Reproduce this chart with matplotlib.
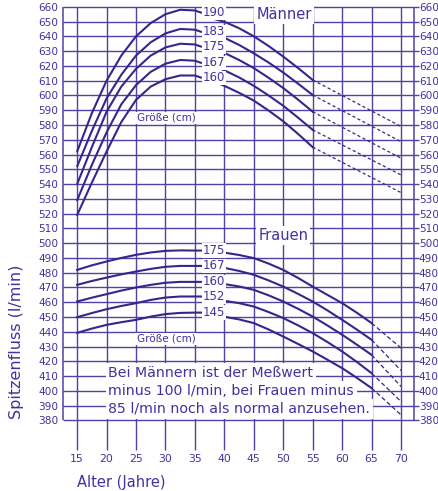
import matplotlib
matplotlib.use("Agg")
import matplotlib.pyplot as plt

# ---------------- data ----------------
men_heights = ["190", "183", "175", "167", "160"]
men_rise_years = [15, 17.5, 20, 22.5, 25, 27.5, 30, 32.5, 35]
men_rise = [
    [562, 588, 610, 627, 640, 649, 655, 658, 657.5],
    [552, 576, 598, 614, 627, 636, 642, 645, 644.5],
    [540, 565, 589, 606, 618, 627, 632.5, 635, 634.5],
    [529, 553, 575, 594, 607, 616, 621.5, 624, 623.5],
    [519, 541, 562, 582, 597, 606, 611, 613.5, 613.5],
]
men_fall_years = [38.5, 40, 42.5, 45, 47.5, 50, 52.5, 55]
men_fall = [
    [651.5, 649.9, 645.5, 640.0, 633.5, 626.3, 618.6, 610.5],
    [641.5, 639.0, 634.2, 628.5, 622.3, 615.5, 608.0, 600.3],
    [631.0, 628.8, 624.0, 618.5, 612.0, 605.0, 597.2, 589.0],
    [619.5, 617.0, 612.2, 606.5, 600.0, 593.0, 585.0, 576.7],
    [609.0, 606.5, 601.8, 596.5, 589.8, 582.5, 574.0, 565.0],
]
men_ext_years = [55, 70]
men_ext_end = [579.0, 568.7, 557.5, 546.2, 534.2]

women_heights = ["175", "167", "160", "152", "145"]
women_rise_years = [15, 17.5, 20, 22.5, 25, 27.5, 30, 32.5, 35]
women_rise = [
    [481.9, 485.0, 487.6, 490.0, 492.1, 493.7, 494.8, 495.1, 495.0],
    [471.8, 474.4, 476.7, 478.9, 480.8, 482.6, 484.0, 484.6, 484.6],
    [460.5, 463.1, 465.5, 467.9, 470.0, 471.8, 473.2, 473.8, 473.8],
    [449.9, 452.7, 455.3, 457.5, 459.4, 461.6, 463.2, 463.9, 463.9],
    [439.3, 442.2, 444.7, 446.5, 448.1, 450.3, 452.0, 452.8, 453.0],
]
women_fall_years = [38.5, 40, 42.5, 45, 47.5, 50, 52.5, 55, 57.5, 60, 62.5, 65]
women_fall = [
    [494.3, 493.6, 492.0, 489.9, 486.2, 481.9, 476.5, 470.6, 465.0, 459.4, 452.9, 445.9],
    [484.2, 483.3, 481.2, 478.6, 474.8, 470.6, 465.7, 460.5, 454.5, 448.1, 441.5, 434.6],
    [472.9, 472.3, 470.7, 468.4, 464.7, 460.5, 455.6, 450.3, 444.3, 438.0, 431.3, 424.4],
    [461.6, 461.0, 459.4, 457.1, 453.4, 449.3, 444.4, 439.1, 433.1, 426.7, 419.6, 412.0],
    [450.8, 450.2, 448.4, 445.9, 441.6, 436.8, 431.8, 426.7, 421.1, 415.4, 408.8, 401.9],
]
women_ext_years = [65, 70]
women_ext_end = [429.0, 413.8, 403.0, 392.8, 383.8]

x_ticks = list(range(15, 71, 5))
y_ticks = list(range(380, 661, 10))

note_lines = ["Bei Männern ist der Meßwert",
              "minus 100 l/min, bei Frauen minus",
              "85 l/min noch als normal anzusehen."]

# ---------------- style ----------------
LINE = "#36268c"
GRID = "#4e42a2"
TXT = "#4232a0"
plt.rcParams['font.family'] = ['DejaVu Sans']

fig = plt.figure(figsize=(4.39, 4.91), dpi=100)
ax = fig.add_axes([63 / 439, 41 / 491, 351 / 439, 443.2 / 491])
X0, X1 = 12.6, 72.2
ax.set_xlim(X0, X1)
ax.set_ylim(360, 660)
for s in ax.spines.values():
    s.set_visible(False)

# grid / frame
ax.hlines(y_ticks, X0, X1 + 0.8, color=GRID, lw=1.0, zorder=1, clip_on=False)
ax.vlines(x_ticks, 360, 660, color=GRID, lw=1.0, zorder=1, clip_on=False)
ax.vlines([X0, X1], min(y_ticks), max(y_ticks), color=GRID, lw=1.1, zorder=1, clip_on=False)

ax.set_yticks(y_ticks)
ax.set_xticks(x_ticks)
ax.tick_params(axis='y', length=0, pad=3.5, labelsize=7.6, labelcolor=TXT,
               labelleft=True, labelright=True)
ax.tick_params(axis='x', length=0, pad=3, labelsize=7.8, labelcolor=TXT)

lab_x = 36.3
# men
for h, r, f, e in zip(men_heights, men_rise, men_fall, men_ext_end):
    ax.plot(men_rise_years + [lab_x - 0.2], r + [r[-1] - 1.5], color=LINE, lw=1.5,
            zorder=3, solid_capstyle='round')
    ax.plot(men_fall_years, f, color=LINE, lw=1.5, zorder=3)
    ax.plot(men_ext_years, [f[-1], e], color=LINE, lw=0.9, ls=(0, (2.5, 2)), zorder=3)
    ax.text(lab_x, r[-1] - 1.5, h, fontsize=8.5, color=TXT, va='center', ha='left',
            zorder=4, bbox=dict(facecolor='white', edgecolor='none', pad=0.5))

# women
for h, r, f, e in zip(women_heights, women_rise, women_fall, women_ext_end):
    ax.plot(women_rise_years + [lab_x - 0.2], r + [r[-1]], color=LINE, lw=1.5, zorder=3)
    ax.plot(women_fall_years, f, color=LINE, lw=1.5, zorder=3)
    ax.plot(women_ext_years, [f[-1], e], color=LINE, lw=0.9, ls=(0, (3.5, 2)), zorder=3)
    ax.text(lab_x, r[-1], h, fontsize=8.5, color=TXT, va='center', ha='left',
            zorder=4, bbox=dict(facecolor='white', edgecolor='none', pad=0.5))

wb = dict(facecolor='white', edgecolor='none', pad=1.5)
ax.text(50.1, 654.8, "Männer", fontsize=10.5, color=TXT, ha='center', va='center',
        zorder=4, bbox=wb)
ax.text(50.0, 505.0, "Frauen", fontsize=10.5, color=TXT, ha='center', va='center',
        zorder=4, bbox=wb)
ax.text(30.1, 584.8, "Größe (cm)", fontsize=7.5, color=TXT, ha='center', va='center',
        zorder=4, bbox=dict(facecolor='white', edgecolor='none', pad=1))
ax.text(30.1, 435.2, "Größe (cm)", fontsize=7.5, color=TXT, ha='center', va='center',
        zorder=4, bbox=dict(facecolor='white', edgecolor='none', pad=1))

for txt, yv in zip(note_lines, [412.2, 400.0, 387.9]):
    ax.text(20.3, yv, txt, fontsize=10.2, color=TXT, ha='left', va='center',
            zorder=5, bbox=dict(facecolor='white', edgecolor='none', pad=2.0))

fig.text(17 / 439, 1 - 342 / 491, "Spitzenfluss (l/min)", rotation=90, fontsize=11.5,
         color=TXT, ha='center', va='center')
fig.text(77 / 439, 1 - 482 / 491, "Alter (Jahre)", fontsize=10.5, color=TXT,
         ha='left', va='center')

fig.savefig("out.png", dpi=100)
